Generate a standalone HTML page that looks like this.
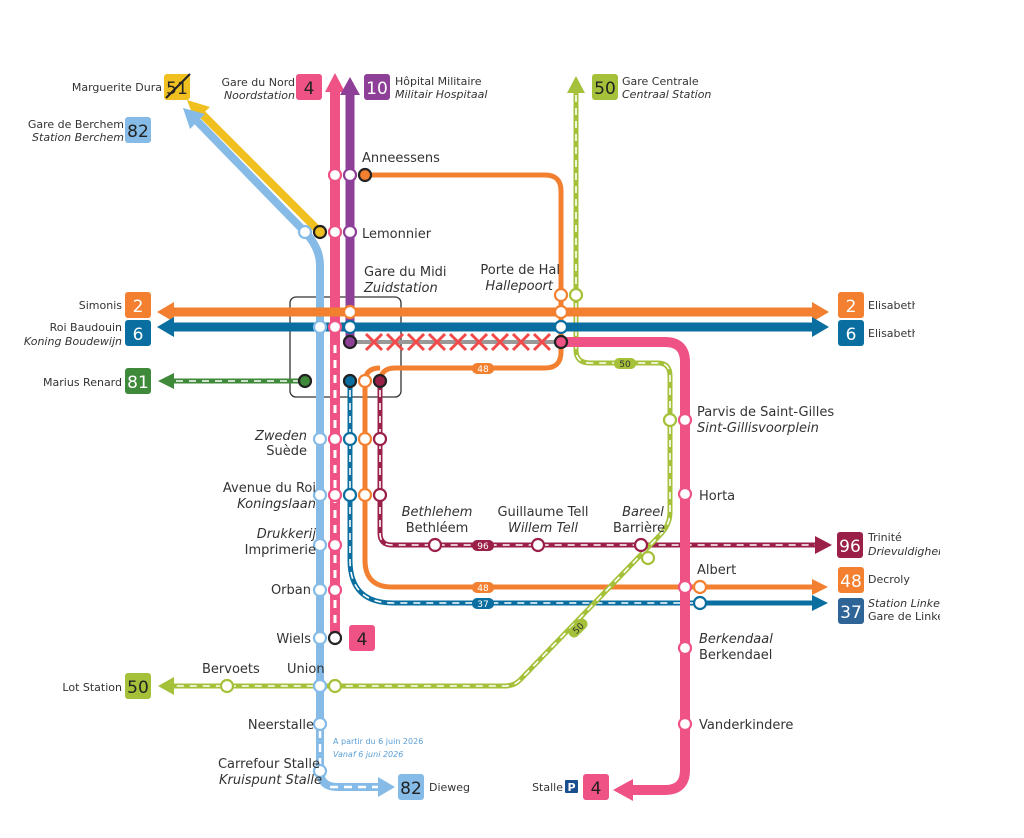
<!DOCTYPE html>
<html><head><meta charset="utf-8"><style>
html,body{margin:0;padding:0;background:#fff;}
svg{display:block;font-family:"DejaVu Sans","Liberation Sans",sans-serif;}
.st{fill:#fff;stroke-width:2.2}
.lb{font-size:13px;fill:#333}
.it{font-style:italic}
.sm{font-size:11px;fill:#333}
.bn{font-size:17px;fill:#fff;text-anchor:middle}
</style></head><body>
<svg width="1024" height="838" viewBox="0 0 1024 838" xmlns="http://www.w3.org/2000/svg">
<rect x="290" y="297" width="111" height="100" rx="6" fill="none" stroke="#333" stroke-width="1.3"/>

<path d="M320 232 L200 112" stroke="#f0c020" stroke-width="8" fill="none"/>
<polygon points="187,100 210,107 195,121" fill="#f0c020"/>
<path d="M305 232 L196 120" stroke="#85bbe6" stroke-width="8" fill="none"/>
<polygon points="183,108 205,114 190,129" fill="#85bbe6"/>
<path d="M305 232 Q320 248 320 265 L320 724" stroke="#85bbe6" stroke-width="8" fill="none"/>
<path d="M320 724 L320 770 Q320 787 337 787 L380 787" stroke="#85bbe6" stroke-width="8" fill="none"/>
<path d="M320 730 L320 770 M330 787 L380 787" stroke="#fff" stroke-width="2.5" stroke-dasharray="8 6" fill="none"/>
<polygon points="378,777 395,787 378,797" fill="#85bbe6"/>

<path d="M335 90 L335 638" stroke="#ef5385" stroke-width="10" fill="none"/>
<polygon points="325,92 335,73 345,92" fill="#ef5385"/>
<path d="M335 345 L335 630" stroke="#fff" stroke-width="3" stroke-dasharray="8 7" fill="none"/>
<path d="M350 92 L350 342" stroke="#8e3f98" stroke-width="9" fill="none"/>
<polygon points="340,95 350,77 360,95" fill="#8e3f98"/>

<path d="M365 175 L545 175 Q561 175 561 191 L561 352 Q561 368 545 368 L395 368 Q380 368 380 383" stroke="#f38030" stroke-width="5" fill="none"/>
<path d="M365 382 L365 560 Q365 587 392 587 L820 587" stroke="#f38030" stroke-width="5" fill="none"/>
<path d="M365 382 Q365 368 380 368" stroke="#f38030" stroke-width="5" fill="none"/>
<polygon points="812,579 828,587 812,595" fill="#f38030"/>
<rect x="472" y="363" width="22" height="11" rx="5" fill="#f38030"/><text x="483" y="372" font-size="9" fill="#fff" text-anchor="middle">48</text>
<rect x="472" y="582" width="22" height="11" rx="5" fill="#f38030"/><text x="483" y="591" font-size="9" fill="#fff" text-anchor="middle">48</text>

<path d="M350 381 L350 560 Q350 603 393 603 L820 603" stroke="#0a6fa0" stroke-width="5" fill="none"/>
<path d="M350 390 L350 560 Q350 603 393 603 L700 603" stroke="#fff" stroke-width="1.6" stroke-dasharray="7 6" fill="none"/>
<polygon points="812,595 828,603 812,611" fill="#0a6fa0"/>
<rect x="472" y="598" width="22" height="11" rx="5" fill="#0a6fa0"/><text x="483" y="607" font-size="9" fill="#fff" text-anchor="middle">37</text>

<path d="M380 381 L380 533 Q380 545 392 545 L818 545" stroke="#9b2048" stroke-width="5" fill="none"/>
<path d="M380 390 L380 533 Q380 545 392 545 L818 545" stroke="#fff" stroke-width="1.6" stroke-dasharray="7 6" fill="none"/>
<polygon points="815,536 832,545 815,554" fill="#9b2048"/>
<rect x="472" y="540" width="22" height="11" rx="5" fill="#9b2048"/><text x="483" y="549" font-size="9" fill="#fff" text-anchor="middle">96</text>

<path d="M576 90 L576 350 Q576 363 590 363 L658 363 Q670 363 670 376 L670 512 Q670 525 660 535 L520 680 Q514 686 505 686 L170 686" stroke="#a5c13a" stroke-width="5" fill="none"/>
<path d="M576 95 L576 350 Q576 363 590 363 L658 363 Q670 363 670 376 L670 512 Q670 525 660 535 L520 680 Q514 686 505 686 L170 686" stroke="#fff" stroke-width="1.6" stroke-dasharray="7 6" fill="none"/>
<polygon points="567,93 576,76 585,93" fill="#a5c13a"/>
<polygon points="174,677 158,686 174,695" fill="#a5c13a"/>
<rect x="614" y="358" width="22" height="11" rx="5" fill="#a5c13a"/><text x="625" y="367" font-size="9" fill="#333" text-anchor="middle">50</text>
<g transform="translate(578,628) rotate(-45)"><rect x="-11" y="-5.5" width="22" height="11" rx="5" fill="#a5c13a"/><text x="0" y="3.5" font-size="9" fill="#333" text-anchor="middle">50</text></g>

<path d="M305 381 L172 381" stroke="#3f8a3a" stroke-width="5" fill="none"/>
<path d="M300 381 L172 381" stroke="#fff" stroke-width="1.6" stroke-dasharray="7 6" fill="none"/>
<polygon points="174,373 158,381 174,389" fill="#3f8a3a"/>

<path d="M172 312 L814 312" stroke="#f38030" stroke-width="9" fill="none"/>
<polygon points="174,302 157,312 174,322" fill="#f38030"/>
<polygon points="812,302 829,312 812,322" fill="#f38030"/>
<path d="M172 327 L814 327" stroke="#0a6fa0" stroke-width="9" fill="none"/>
<polygon points="174,317 157,327 174,337" fill="#0a6fa0"/>
<polygon points="812,317 829,327 812,337" fill="#0a6fa0"/>

<path d="M350 342 L562 342" stroke="#999" stroke-width="4" fill="none"/>
<g stroke="#f04a4a" stroke-width="3">
<path d="M366 334 L382 350 M382 334 L366 350"/><path d="M387 334 L403 350 M403 334 L387 350"/><path d="M408 334 L424 350 M424 334 L408 350"/><path d="M429 334 L445 350 M445 334 L429 350"/><path d="M450 334 L466 350 M466 334 L450 350"/><path d="M471 334 L487 350 M487 334 L471 350"/><path d="M492 334 L508 350 M508 334 L492 350"/><path d="M513 334 L529 350 M529 334 L513 350"/><path d="M534 334 L550 350 M550 334 L534 350"/>
</g>

<path d="M562 342 L665 342 Q685 342 685 362 L685 770 Q685 790 665 790 L630 790" stroke="#ef5385" stroke-width="10" fill="none"/>
<polygon points="633,779 613,790 633,801" fill="#ef5385"/>

<g class="st">
<circle cx="305" cy="232" r="6" stroke="#85bbe6"/>
<circle cx="320" cy="232" r="6" stroke="#222" style="fill:#f0c020"/>
<circle cx="335" cy="175" r="6" stroke="#ef5385"/><circle cx="350" cy="175" r="6" stroke="#8e3f98"/>
<circle cx="335" cy="232" r="6" stroke="#ef5385"/><circle cx="350" cy="232" r="6" stroke="#8e3f98"/>
<circle cx="365" cy="175" r="6" stroke="#222" style="fill:#f38030"/>
<circle cx="350" cy="312" r="6" stroke="#f38030"/>
<circle cx="320" cy="327" r="6" stroke="#85bbe6"/><circle cx="335" cy="327" r="6" stroke="#ef5385"/><circle cx="350" cy="327" r="6" stroke="#0a6fa0"/>
<circle cx="350" cy="342" r="6" stroke="#222" style="fill:#8e3f98"/>
<circle cx="305" cy="381" r="6" stroke="#222" style="fill:#3f8a3a"/>
<circle cx="350" cy="381" r="6" stroke="#222" style="fill:#0a6fa0"/>
<circle cx="365" cy="381" r="6" stroke="#f38030"/>
<circle cx="380" cy="381" r="6" stroke="#222" style="fill:#9b2048"/>
<circle cx="320" cy="439" r="6" stroke="#85bbe6"/><circle cx="335" cy="439" r="6" stroke="#ef5385"/><circle cx="350" cy="439" r="6" stroke="#0a6fa0"/><circle cx="365" cy="439" r="6" stroke="#f38030"/><circle cx="380" cy="439" r="6" stroke="#9b2048"/>
<circle cx="320" cy="495" r="6" stroke="#85bbe6"/><circle cx="335" cy="495" r="6" stroke="#ef5385"/><circle cx="350" cy="495" r="6" stroke="#0a6fa0"/><circle cx="365" cy="495" r="6" stroke="#f38030"/><circle cx="380" cy="495" r="6" stroke="#9b2048"/>
<circle cx="320" cy="545" r="6" stroke="#85bbe6"/><circle cx="335" cy="545" r="6" stroke="#ef5385"/>
<circle cx="320" cy="590" r="6" stroke="#85bbe6"/><circle cx="335" cy="590" r="6" stroke="#ef5385"/>
<circle cx="320" cy="638" r="6" stroke="#85bbe6"/><circle cx="335" cy="638" r="6" stroke="#222"/>
<circle cx="320" cy="686" r="6" stroke="#85bbe6"/><circle cx="335" cy="686" r="6" stroke="#a5c13a"/><circle cx="227" cy="686" r="6" stroke="#a5c13a"/>
<circle cx="320" cy="724" r="6" stroke="#85bbe6"/><circle cx="320" cy="771" r="6" stroke="#85bbe6"/>
<circle cx="435" cy="545" r="6" stroke="#9b2048"/><circle cx="538" cy="545" r="6" stroke="#9b2048"/><circle cx="641" cy="545" r="6" stroke="#9b2048"/>
<circle cx="561" cy="295" r="6" stroke="#f38030"/><circle cx="576" cy="295" r="6" stroke="#a5c13a"/>
<circle cx="561" cy="312" r="6" stroke="#f38030"/><circle cx="561" cy="327" r="6" stroke="#0a6fa0"/>
<circle cx="561" cy="342" r="6" stroke="#222" style="fill:#ef5385"/>
<circle cx="670" cy="420" r="6" stroke="#a5c13a"/><circle cx="685" cy="420" r="6" stroke="#ef5385"/>
<circle cx="685" cy="494" r="6" stroke="#ef5385"/><circle cx="648" cy="558" r="6" stroke="#a5c13a"/>
<circle cx="685" cy="587" r="6" stroke="#ef5385"/><circle cx="700" cy="587" r="6" stroke="#f38030"/><circle cx="700" cy="603" r="6" stroke="#0a6fa0"/>
<circle cx="685" cy="648" r="6" stroke="#ef5385"/><circle cx="685" cy="724" r="6" stroke="#ef5385"/>
</g>

<g>
<rect x="164" y="74" width="26" height="26" rx="3" fill="#f0c020"/><text x="177" y="94" font-size="17" fill="#222" text-anchor="middle">51</text><path d="M166 98 L190 74" stroke="#222" stroke-width="2"/>
<rect x="125" y="117" width="26" height="26" rx="3" fill="#85bbe6"/><text x="138" y="137" font-size="17" fill="#222" text-anchor="middle">82</text>
<rect x="296" y="74" width="26" height="26" rx="3" fill="#ef5385"/><text x="309" y="94" font-size="17" fill="#222" text-anchor="middle">4</text>
<rect x="364" y="74" width="26" height="26" rx="3" fill="#8e3f98"/><text x="377" y="94" class="bn">10</text>
<rect x="592" y="74" width="26" height="26" rx="3" fill="#a5c13a"/><text x="605" y="94" font-size="17" fill="#222" text-anchor="middle">50</text>
<rect x="125" y="292" width="26" height="26" rx="3" fill="#f38030"/><text x="138" y="312" class="bn">2</text>
<rect x="125" y="320" width="26" height="26" rx="3" fill="#0a6fa0"/><text x="138" y="340" class="bn">6</text>
<rect x="125" y="368" width="26" height="26" rx="3" fill="#3f8a3a"/><text x="138" y="388" class="bn">81</text>
<rect x="125" y="673" width="26" height="26" rx="3" fill="#a5c13a"/><text x="138" y="693" font-size="17" fill="#222" text-anchor="middle">50</text>
<rect x="838" y="292" width="26" height="26" rx="3" fill="#f38030"/><text x="851" y="312" class="bn">2</text>
<rect x="838" y="320" width="26" height="26" rx="3" fill="#0a6fa0"/><text x="851" y="340" class="bn">6</text>
<rect x="837" y="532" width="26" height="26" rx="3" fill="#9b2048"/><text x="850" y="552" class="bn">96</text>
<rect x="838" y="567" width="26" height="26" rx="3" fill="#f38030"/><text x="851" y="587" class="bn">48</text>
<rect x="838" y="598" width="26" height="26" rx="3" fill="#2f6596"/><text x="851" y="618" class="bn">37</text>
<rect x="349" y="625" width="26" height="26" rx="3" fill="#ef5385"/><text x="362" y="645" font-size="17" fill="#222" text-anchor="middle">4</text>
<rect x="398" y="774" width="26" height="26" rx="3" fill="#85bbe6"/><text x="411" y="794" font-size="17" fill="#222" text-anchor="middle">82</text>
<rect x="583" y="774" width="26" height="26" rx="3" fill="#ef5385"/><text x="596" y="794" font-size="17" fill="#222" text-anchor="middle">4</text>
<rect x="565" y="780" width="13" height="13" rx="1" fill="#1a4f8f"/><text x="571.5" y="791" font-size="11" font-weight="bold" fill="#fff" text-anchor="middle">P</text>
</g>

<g class="sm">
<text x="162" y="91" text-anchor="end">Marguerite Dura</text>
<text x="124" y="128" text-anchor="end">Gare de Berchem</text>
<text x="124" y="141" text-anchor="end" class="it">Station Berchem</text>
<text x="295" y="86" text-anchor="end">Gare du Nord</text>
<text x="295" y="99" text-anchor="end" class="it">Noordstation</text>
<text x="395" y="85">Hôpital Militaire</text>
<text x="395" y="98" class="it">Militair Hospitaal</text>
<text x="622" y="85">Gare Centrale</text>
<text x="622" y="98" class="it">Centraal Station</text>
<text x="122" y="309" text-anchor="end">Simonis</text>
<text x="122" y="331" text-anchor="end">Roi Baudouin</text>
<text x="122" y="345" text-anchor="end" class="it">Koning Boudewijn</text>
<text x="122" y="386" text-anchor="end">Marius Renard</text>
<text x="122" y="691" text-anchor="end">Lot Station</text>
<text x="868" y="309">Elisabeth</text>
<text x="868" y="337">Elisabeth</text>
<text x="868" y="541">Trinité</text>
<text x="868" y="555" class="it">Drievuldigheid</text>
<text x="868" y="583">Decroly</text>
<text x="868" y="607" class="it">Station Linkebeek</text>
<text x="868" y="620">Gare de Linkebeek</text>
<text x="429" y="791">Dieweg</text>
<text x="563" y="791" text-anchor="end">Stalle</text>
</g>
<rect x="915" y="290" width="110" height="60" fill="#fff"/>
<rect x="940" y="520" width="90" height="110" fill="#fff"/>
<g class="lb">
<text x="362" y="162">Anneessens</text>
<text x="362" y="238">Lemonnier</text>
<text x="364" y="276">Gare du Midi</text>
<text x="364" y="292" class="it">Zuidstation</text>
<text x="560" y="274" text-anchor="end">Porte de Hal</text>
<text x="553" y="290" text-anchor="end" class="it">Hallepoort</text>
<text x="307" y="440" text-anchor="end" class="it">Zweden</text>
<text x="307" y="455" text-anchor="end">Suède</text>
<text x="316" y="492" text-anchor="end">Avenue du Roi</text>
<text x="316" y="508" text-anchor="end" class="it">Koningslaan</text>
<text x="316" y="538" text-anchor="end" class="it">Drukkerij</text>
<text x="316" y="554" text-anchor="end">Imprimerie</text>
<text x="311" y="594" text-anchor="end">Orban</text>
<text x="311" y="643" text-anchor="end">Wiels</text>
<text x="202" y="673">Bervoets</text>
<text x="287" y="673">Union</text>
<text x="314" y="729" text-anchor="end">Neerstalle</text>
<text x="320" y="768" text-anchor="end">Carrefour Stalle</text>
<text x="322" y="784" text-anchor="end" class="it">Kruispunt Stalle</text>
<text x="437" y="516" text-anchor="middle" class="it">Bethlehem</text>
<text x="437" y="532" text-anchor="middle">Bethléem</text>
<text x="543" y="516" text-anchor="middle">Guillaume Tell</text>
<text x="543" y="532" text-anchor="middle" class="it">Willem Tell</text>
<text x="643" y="516" text-anchor="middle" class="it">Bareel</text>
<text x="639" y="532" text-anchor="middle">Barrière</text>
<text x="697" y="416">Parvis de Saint-Gilles</text>
<text x="697" y="432" class="it">Sint-Gillisvoorplein</text>
<text x="699" y="500">Horta</text>
<text x="697" y="574">Albert</text>
<text x="699" y="643" class="it">Berkendaal</text>
<text x="699" y="659">Berkendael</text>
<text x="699" y="729">Vanderkindere</text>
</g>
<text x="333" y="744" font-size="8" fill="#5a9fd6">A partir du 6 juin 2026</text>
<text x="333" y="757" font-size="8" fill="#5a9fd6" font-style="italic">Vanaf 6 juni 2026</text>
</svg>
</body></html>
